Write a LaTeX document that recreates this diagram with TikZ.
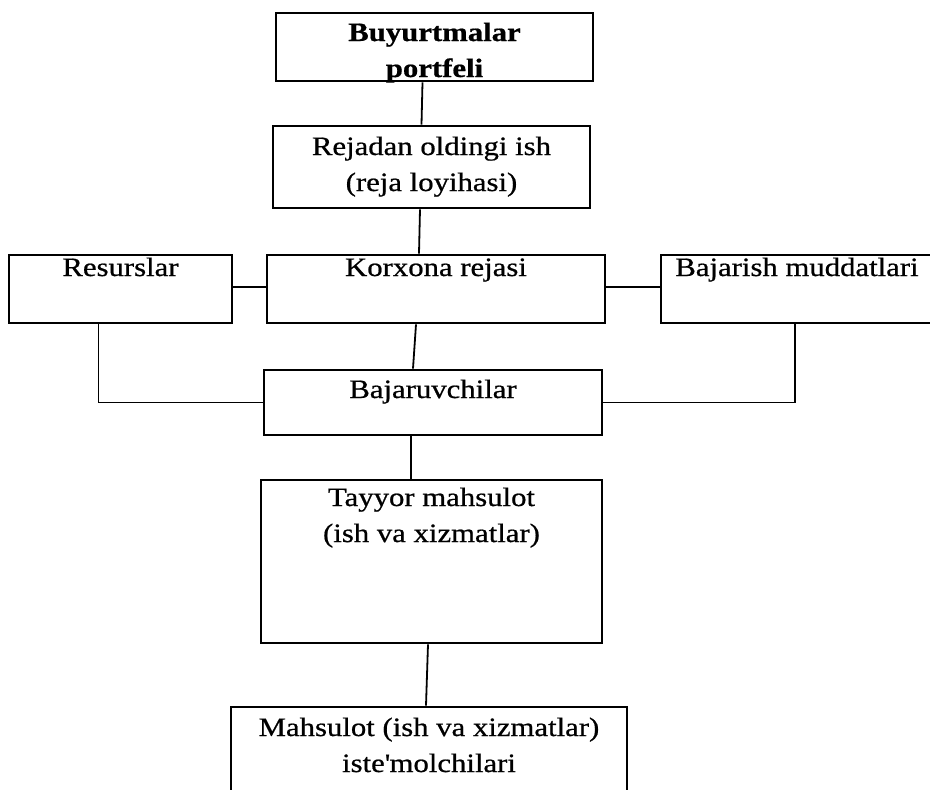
\documentclass[tikz,border=0pt]{standalone}
\usepackage{fontspec}
\setmainfont{Liberation Serif}[FakeStretch=1.16,FakeBold=0.7]
\begin{document}
\begin{tikzpicture}[x=1pt,y=-1pt,
	box/.style={draw=black,line width=2.8pt,inner sep=0pt,align=center,font=\fontsize{26.5}{36}\selectfont},
	link/.style={draw=black,line width=1.8pt}]
	\useasboundingbox (0,0) rectangle (930,790);
	\node[box,minimum width=317pt,text height=64pt,text depth=4pt,font=\fontsize{26.5}{36}\selectfont\bfseries] (order) at (434.5,47) {Buyurtmalar\\portfeli};
	\node[box,minimum width=317pt,text height=65pt,text depth=17pt] (plan) at (431.5,167) {Rejadan oldingi ish\\(reja loyihasi)};
	\node[box,minimum width=223pt,text height=21pt,text depth=47pt] (res) at (120.5,289) {Resurslar};
	\node[box,minimum width=338pt,text height=21pt,text depth=47pt] (firm) at (436,289) {Korxona rejasi};
	\node[box,minimum width=272pt,text height=21pt,text depth=47pt] (term) at (797,289) {Bajarish muddatlari};
	\node[box,minimum width=338pt,text height=28pt,text depth=37pt] (exec) at (433,402.5) {Bajaruvchilar};
	\node[box,minimum width=341pt,text height=62pt,text depth=101pt] (ready) at (431.5,561.5) {Tayyor mahsulot\\(ish va xizmatlar)};
	\node[box,minimum width=396pt,text height=65pt,text depth=21pt] (users) at (429,750) {Mahsulot (ish va xizmatlar)\\iste\textquotesingle molchilari};
	\path [link] ([xshift=-12pt]order.south) edge ([xshift=-10pt]plan.north);
	\path [link] ([xshift=-11.5pt]plan.south) edge ([xshift=-17pt]firm.north);
	\path [link] ([yshift=2pt]res.east) edge ([yshift=2pt]firm.west);
	\path [link] ([yshift=2pt]firm.east) edge ([yshift=2pt]term.west);
	\path [link] ([xshift=-20pt]firm.south) edge ([xshift=-20pt]exec.north);
	\draw [link] ([xshift=-22pt]res.south) |- (exec.west);
	\draw [link] ([xshift=-2pt]term.south) |- (exec.east);
	\path [link] ([xshift=-22pt]exec.south) edge ([xshift=-20.5pt]ready.north);
	\path [link] ([xshift=-3.5pt]ready.south) edge ([xshift=-3pt]users.north);
\end{tikzpicture}
\end{document}
